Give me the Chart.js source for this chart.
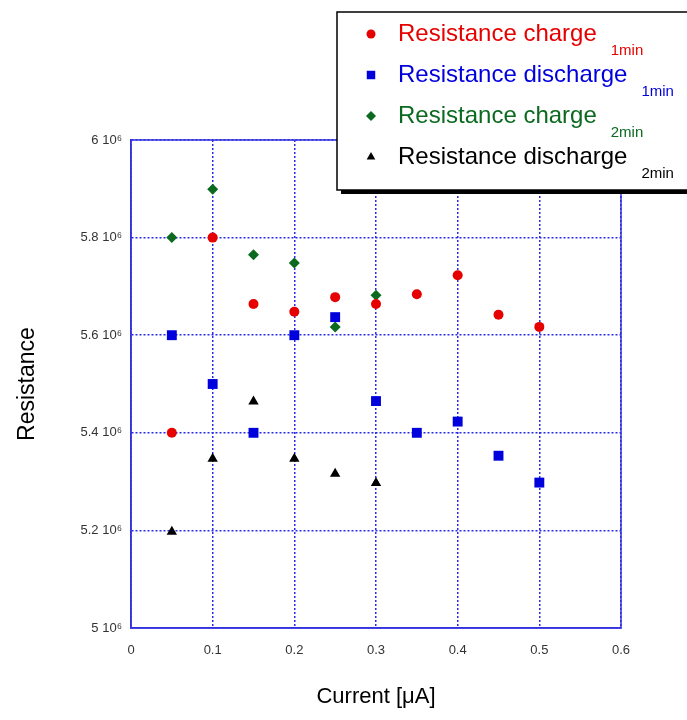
<!DOCTYPE html>
<html lang="en">
<head>
    <meta charset="UTF-8">
    <title>Resistance vs current</title>
    <script src="https://cdn.jsdelivr.net/npm/chart.js"></script>
    <style>
        html, body { margin: 0; padding: 0; background: #fff; }
        #wrap { width: 687px; height: 720px; }
    </style>
</head>
<body>
    <div id="wrap"><canvas id="chart" width="687" height="720"></canvas></div>

    <script>
        // current in µA
        const currentAll = [0.05, 0.1, 0.15, 0.2, 0.25, 0.3, 0.35, 0.4, 0.45, 0.5];
        const current2min = [0.05, 0.1, 0.15, 0.2, 0.25, 0.3];

        // resistance values
        const charge1min = [5.40e6, 5.80e6, 5.664e6, 5.648e6, 5.678e6, 5.664e6, 5.684e6, 5.723e6, 5.642e6, 5.617e6];
        const discharge1min = [5.60e6, 5.50e6, 5.40e6, 5.60e6, 5.637e6, 5.465e6, 5.40e6, 5.423e6, 5.353e6, 5.298e6];
        const charge2min = [5.80e6, 5.899e6, 5.765e6, 5.748e6, 5.617e6, 5.682e6];
        const discharge2min = [5.197e6, 5.347e6, 5.464e6, 5.347e6, 5.316e6, 5.297e6];

        const xTicks = [0, 0.1, 0.2, 0.3, 0.4, 0.5, 0.6];
        const yTickLabels = { 5e6: '5 10⁶', 5.2e6: '5.2 10⁶', 5.4e6: '5.4 10⁶', 5.6e6: '5.6 10⁶', 5.8e6: '5.8 10⁶', 6e6: '6 10⁶' };

        const legendNames = ['Resistance charge', 'Resistance discharge', 'Resistance charge', 'Resistance discharge'];
        const legendSubs = ['1min', '1min', '2min', '2min'];

        const RED = '#e60000', BLUE = '#0000dd', GREEN = '#0b6a1f', BLACK = '#000000';
        const GRID = '#2a2ae8';
        const FONT = '"Liberation Sans", Arial, sans-serif';

        const pts = (xs, ys) => xs.map((x, i) => ({ x: x, y: ys[i] }));

        // full frame around plot area
        const framePlugin = {
            id: 'frame',
            afterDatasetsDraw(chart) {
                const { ctx, chartArea: a } = chart;
                ctx.save();
                ctx.strokeStyle = '#3232e0';
                ctx.lineWidth = 1.5;
                ctx.strokeRect(a.left, a.top, a.right - a.left, a.bottom - a.top);
                ctx.restore();
            }
        };

        // boxed legend with subscripts, like the original
        const legendSizes = { circle: 4.5, rect: 6, rectRot: 5, triangle: 5 };
        const legendPlugin = {
            id: 'boxLegend',
            afterDraw(chart) {
                const ctx = chart.ctx;
                const bx = 337, by = 12, bw = 360, bh = 178;
                ctx.save();
                ctx.fillStyle = '#000';
                ctx.fillRect(bx + 4, by + 4, bw, bh);
                ctx.fillStyle = '#fff';
                ctx.fillRect(bx, by, bw, bh);
                ctx.strokeStyle = '#000';
                ctx.lineWidth = 1.5;
                ctx.strokeRect(bx, by, bw, bh);

                const rows = [34, 75, 116, 157];
                chart.data.datasets.forEach((ds, i) => {
                    const y = rows[i];
                    ctx.fillStyle = ds.backgroundColor;
                    ctx.strokeStyle = ds.backgroundColor;
                    Chart.helpers.drawPoint(ctx, {
                        pointStyle: ds.pointStyle,
                        radius: legendSizes[ds.pointStyle],
                        borderWidth: 0
                    }, 371, y);
                    ctx.font = '24px ' + FONT;
                    ctx.textBaseline = 'middle';
                    ctx.textAlign = 'left';
                    ctx.fillText(legendNames[i], 398, y);
                    const w = ctx.measureText(legendNames[i]).width;
                    ctx.font = '15px ' + FONT;
                    ctx.fillText(legendSubs[i], 398 + w + 14, y + 17);
                });
                ctx.restore();
            }
        };

        const ctx = document.getElementById('chart').getContext('2d');

        new Chart(ctx, {
            type: 'scatter',
            data: {
                datasets: [
                    {
                        label: 'Resistance charge 1min',
                        data: pts(currentAll, charge1min),
                        pointStyle: 'circle',
                        pointRadius: 5,
                        backgroundColor: RED,
                        borderColor: RED,
                        borderWidth: 0
                    },
                    {
                        label: 'Resistance discharge 1min',
                        data: pts(currentAll, discharge1min),
                        pointStyle: 'rect',
                        pointRadius: 7,
                        backgroundColor: BLUE,
                        borderColor: BLUE,
                        borderWidth: 0
                    },
                    {
                        label: 'Resistance charge 2min',
                        data: pts(current2min, charge2min),
                        pointStyle: 'rectRot',
                        pointRadius: 5.5,
                        backgroundColor: GREEN,
                        borderColor: GREEN,
                        borderWidth: 0
                    },
                    {
                        label: 'Resistance discharge 2min',
                        data: pts(current2min, discharge2min),
                        pointStyle: 'triangle',
                        pointRadius: 6,
                        backgroundColor: BLACK,
                        borderColor: BLACK,
                        borderWidth: 0
                    }
                ]
            },
            options: {
                responsive: false,
                animation: false,
                layout: {
                    padding: { top: 140, right: 66, left: 0, bottom: 0 }
                },
                scales: {
                    x: {
                        type: 'linear',
                        min: 0,
                        max: 0.6,
                        afterBuildTicks: (scale) => { scale.ticks = xTicks.map(v => ({ value: v })); },
                        afterFit: (scale) => { scale.height = 92; },
                        ticks: {
                            padding: 15,
                            color: '#333',
                            font: { family: FONT, size: 13 },
                            callback: (v) => String(v)
                        },
                        grid: {
                            color: GRID,
                            lineWidth: 1.5,
                            drawTicks: false
                        },
                        border: { display: true, color: '#3232e0', width: 1.5, dash: [2, 2] },
                        title: {
                            display: true,
                            text: 'Current [μA]',
                            color: '#000',
                            padding: { top: 0, bottom: 10 },
                            font: { family: FONT, size: 22 }
                        }
                    },
                    y: {
                        type: 'linear',
                        min: 5e6,
                        max: 6e6,
                        afterBuildTicks: (scale) => {
                            scale.ticks = Object.keys(yTickLabels).map(Number).sort((a, b) => a - b).map(v => ({ value: v }));
                        },
                        afterFit: (scale) => { scale.width = 131; },
                        ticks: {
                            padding: 9,
                            color: '#333',
                            font: { family: FONT, size: 13 },
                            callback: (v) => yTickLabels[v]
                        },
                        grid: {
                            color: GRID,
                            lineWidth: 1.5,
                            drawTicks: false
                        },
                        border: { display: true, color: '#3232e0', width: 1.5, dash: [2, 2] },
                        title: {
                            display: true,
                            text: 'Resistance',
                            color: '#000',
                            padding: { top: 14, bottom: 0 },
                            font: { family: FONT, size: 23 }
                        }
                    }
                },
                plugins: {
                    legend: { display: false },
                    tooltip: { enabled: false }
                }
            },
            plugins: [framePlugin, legendPlugin]
        });
    </script>
</body>
</html>
